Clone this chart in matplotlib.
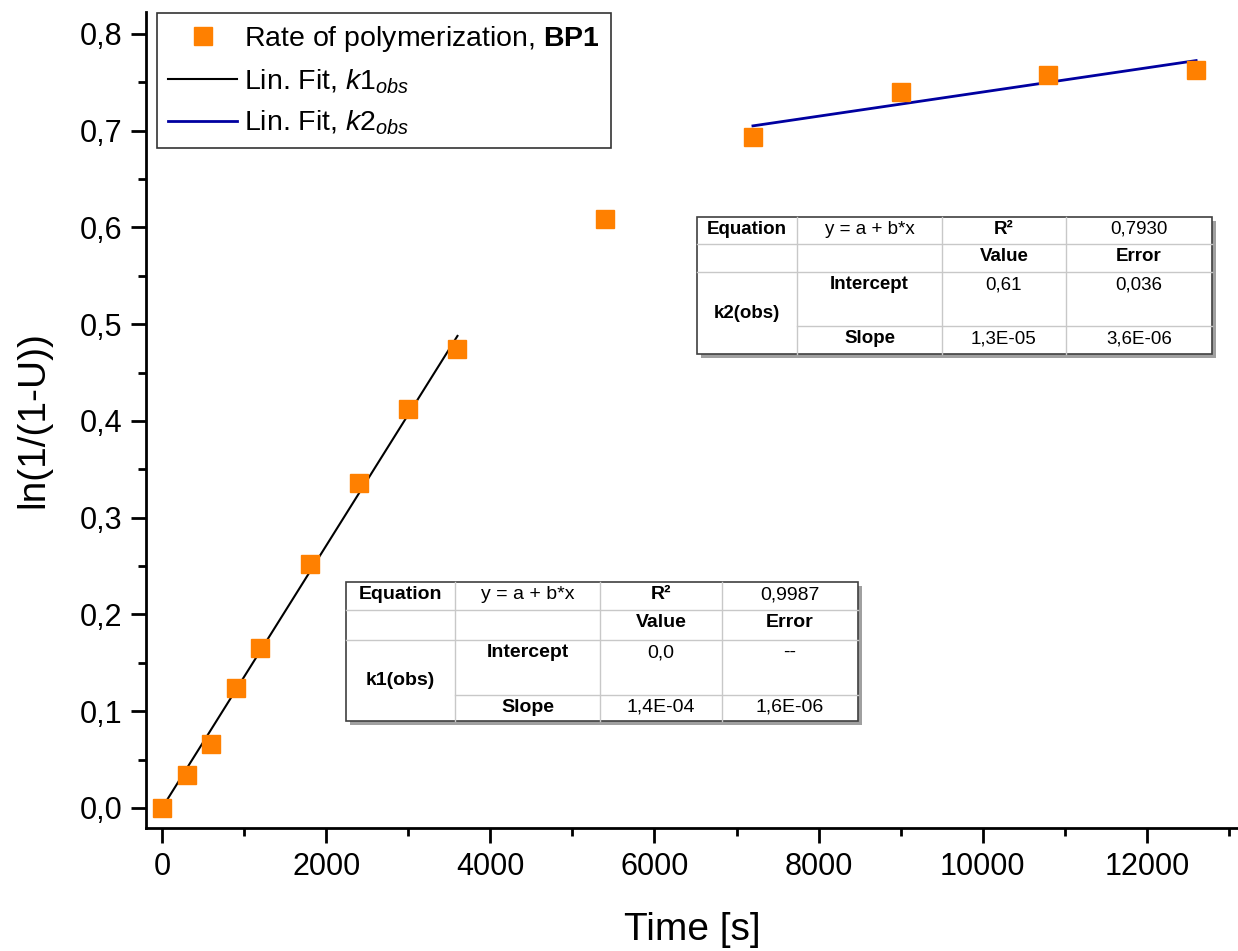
#Rate of polymerization, BP1
#ln(1/(1-U)) versus time with two linear fits and fit-result tables

import numpy as np
import matplotlib
matplotlib.use("Agg")
import matplotlib.pyplot as plt
from matplotlib.ticker import MultipleLocator, FuncFormatter
from matplotlib.patches import Rectangle
from matplotlib.lines import Line2D

# data
time_s = [0, 300, 600, 900, 1200, 1800, 2400, 3000, 3600, 5400, 7200, 9000, 10800, 12600]
ln_u = [0.0, 0.034, 0.066, 0.124, 0.165, 0.252, 0.336, 0.412, 0.474, 0.609, 0.694, 0.740, 0.758, 0.763]

fit1_range = [0, 3600]
fit2_range = [7200, 12600]

# fit result tables (as printed on the chart)
k1_rows = [["Equation", "y = a + b*x", "R²", "0,9987"],
           ["", "", "Value", "Error"],
           ["k1(obs)", "Intercept", "0,0", "--"],
           ["", "Slope", "1,4E-04", "1,6E-06"]]
k2_rows = [["Equation", "y = a + b*x", "R²", "0,7930"],
           ["", "", "Value", "Error"],
           ["k2(obs)", "Intercept", "0,61", "0,036"],
           ["", "Slope", "1,3E-05", "3,6E-06"]]

W, H = 1238, 951
ORANGE = "#ff8000"
NAVY = "#0000a0"

plt.rcParams['font.family'] = ['Liberation Sans', 'DejaVu Sans']
plt.rcParams['mathtext.fontset'] = 'custom'
plt.rcParams['mathtext.rm'] = 'Liberation Sans'
plt.rcParams['mathtext.it'] = 'Liberation Sans:italic'
plt.rcParams['mathtext.bf'] = 'Liberation Sans:bold'


def px(x, y):
    """pixel position (from top left) -> figure fraction"""
    return x / W, 1 - y / H


def draw_table(fig, cols, rows, cells, fs):
    """draw an Origin-like fit table; cols/rows are pixel edges"""
    x0, x1 = cols[0], cols[-1]
    y0, y1 = rows[0], rows[-1]
    # shadow
    fx, fy = px(x0 + 4, y1 + 4)
    fig.patches.append(Rectangle((fx, fy), (x1 - x0) / W, (y1 - y0) / H,
                                 transform=fig.transFigure, facecolor="#a0a0a0",
                                 edgecolor="none", zorder=5))
    fx, fy = px(x0, y1)
    fig.patches.append(Rectangle((fx, fy), (x1 - x0) / W, (y1 - y0) / H,
                                 transform=fig.transFigure, facecolor="white",
                                 edgecolor="#404040", lw=1.2, zorder=6))
    grid = "#c8c8c8"
    for c in cols[1:-1]:
        fig.lines.append(Line2D([c / W, c / W], [1 - y0 / H, 1 - y1 / H],
                                transform=fig.transFigure, color=grid, lw=1, zorder=7))
    # the last inner line does not cross the merged first column
    for i, r in enumerate(rows[1:-1]):
        xs = x0 if i < 2 else cols[1]
        fig.lines.append(Line2D([xs / W, x1 / W], [1 - r / H, 1 - r / H],
                                transform=fig.transFigure, color=grid, lw=1, zorder=7))
    bold_cells = {(0, 0), (0, 2), (1, 2), (1, 3), (2, 0), (2, 1), (3, 1)}
    for ri, row in enumerate(cells):
        for ci, txt in enumerate(row):
            if not txt:
                continue
            xc = (cols[ci] + cols[ci + 1]) / 2
            if ri == 2 and ci == 0:
                yc = (rows[2] + rows[4]) / 2
                va = "center"
            else:
                yc = rows[ri] + 4
                va = "top"
            fig.text(xc / W, 1 - yc / H, txt, ha="center", va=va, fontsize=fs,
                     fontweight="bold" if (ri, ci) in bold_cells else "normal",
                     zorder=8)


fig = plt.figure(figsize=(W / 100, H / 100), dpi=100)
ax = fig.add_axes([146 / W, 1 - 828 / H, (W - 146) / W, (828 - 12) / H])

t = np.array(time_s, dtype=float)
y = np.array(ln_u)

# linear fit through origin for k1, free fit for k2
m1 = (t <= fit1_range[1])
slope1 = np.sum(t[m1] * y[m1]) / np.sum(t[m1] ** 2)
m2 = (t >= fit2_range[0])
slope2, icpt2 = np.polyfit(t[m2], y[m2], 1)

x1 = np.array(fit1_range, dtype=float)
x2 = np.array(fit2_range, dtype=float)

ax.plot(t, y, 's', color=ORANGE, markersize=13, markeredgecolor=ORANGE,
        label="Rate of polymerization, $\\mathbf{BP1}$", zorder=3)
ax.plot(x1, slope1 * x1, color="black", lw=1.5,
        label="Lin. Fit, $\\mathit{k1}_{\\mathit{obs}}$", zorder=2)
ax.plot(x2, icpt2 + slope2 * x2, color=NAVY, lw=2,
        label="Lin. Fit, $\\mathit{k2}_{\\mathit{obs}}$", zorder=2)

ax.set_xlim(-195, 13110)
ax.set_ylim(-0.0207, 0.8227)
ax.xaxis.set_major_locator(MultipleLocator(2000))
ax.xaxis.set_minor_locator(MultipleLocator(1000))
ax.yaxis.set_major_locator(MultipleLocator(0.1))
ax.yaxis.set_minor_locator(MultipleLocator(0.05))
ax.yaxis.set_major_formatter(FuncFormatter(lambda v, p: f"{v:.1f}".replace(".", ",")))

for s in ["top", "right"]:
    ax.spines[s].set_visible(False)
for s in ["left", "bottom"]:
    ax.spines[s].set_linewidth(2.0)
ax.tick_params(which="major", direction="out", length=11, width=2.0, labelsize=22, pad=6)
ax.tick_params(which="minor", direction="out", length=6, width=2.0)

ax.set_xlabel("Time [s]", fontsize=28, labelpad=22)
ax.set_ylabel("ln(1/(1-U))", fontsize=28, labelpad=20)

leg = ax.legend(loc="upper left", bbox_to_anchor=px(157, 13),
                bbox_transform=fig.transFigure, borderaxespad=0, fontsize=20.5,
                frameon=True, fancybox=False, edgecolor="black",
                handlelength=2.4, handletextpad=0.25, labelspacing=0.45,
                borderpad=0.4)
leg.get_frame().set_linewidth(1.2)

draw_table(fig, [697, 797, 942, 1066, 1212], [217, 244, 272, 326, 354], k2_rows, 13.5)
draw_table(fig, [346, 455, 600, 722, 858], [582, 610, 640, 695, 721], k1_rows, 14)

fig.savefig("out.png", dpi=100)
